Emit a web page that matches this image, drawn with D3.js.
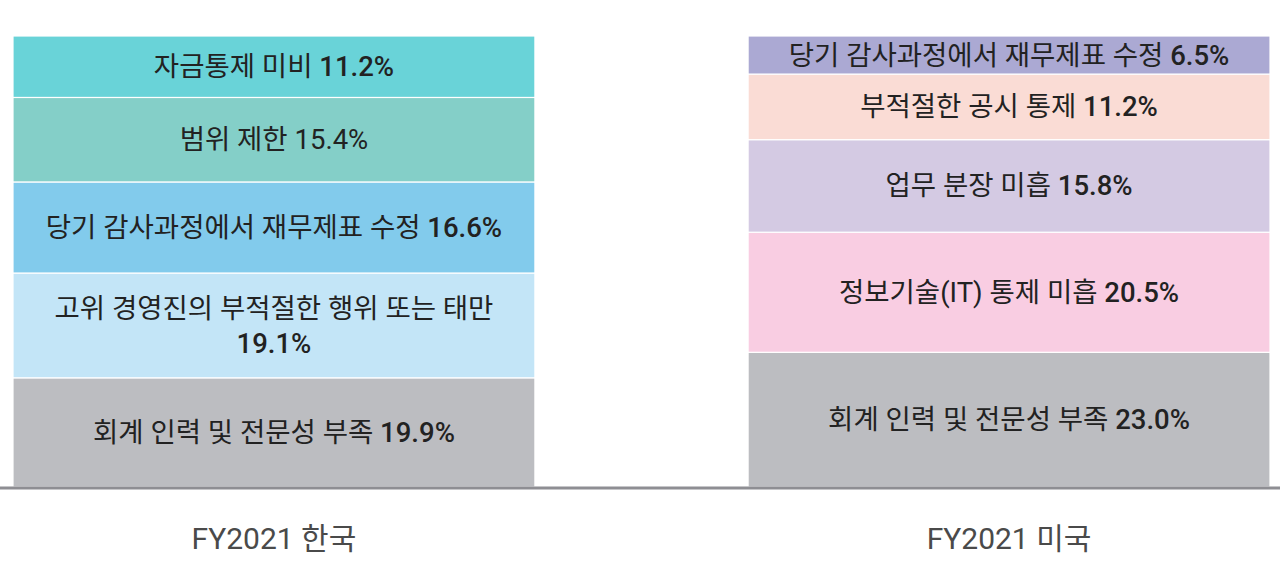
<!DOCTYPE html>
<meta charset="utf-8">
<script src="https://d3js.org/d3.v7.min.js"></script>
<style>
  body { margin: 0; background: #fff; }
  text { font-family: Roboto, "Noto Sans CJK KR", sans-serif; }
</style>
<div id="my_dataviz"></div>
<script>
    // categories (bars) and their segments, bottom to top
    var bars = ["FY2021 한국", "FY2021 미국"];

    var krLabels = ["회계 인력 및 전문성 부족", "고위 경영진의 부적절한 행위 또는 태만", "당기 감사과정에서 재무제표 수정", "범위 제한", "자금통제 미비"];
    var krValues = [19.9, 19.1, 16.6, 15.4, 11.2];
    var krColors = ["#bcbdc1", "#c3e5f7", "#82cbec", "#84cfc8", "#69d3d8"];

    var usLabels = ["회계 인력 및 전문성 부족", "정보기술(IT) 통제 미흡", "업무 분장 미흡", "부적절한 공시 통제", "당기 감사과정에서 재무제표 수정"];
    var usValues = [23.0, 20.5, 15.8, 11.2, 6.5];
    var usColors = ["#bcbdc1", "#f9cde2", "#d4cae3", "#fadcd5", "#aba9d3"];

    var width = 1280, height = 565;
    var baseline = 487, barTop = 36;

    var svg = d3.select("#my_dataviz")
        .append("svg")
        .attr("width", width)
        .attr("height", height);

    var x = d3.scaleBand()
        .domain(bars)
        .range([13, 1270])
        .paddingInner(0.29)
        .paddingOuter(0);

    // each bar is shown as share of its own total
    var y = d3.scaleLinear()
        .domain([0, 1])
        .range([baseline, barTop]);

    var series = [
        { bar: bars[0], labels: krLabels, values: krValues, colors: krColors },
        { bar: bars[1], labels: usLabels, values: usValues, colors: usColors }
    ];

    series.forEach(function(s) {
        var total = d3.sum(s.values);
        var acc = 0;
        var segs = s.values.map(function(v, i) {
            var d = { label: s.labels[i], value: v, color: s.colors[i], y0: acc / total };
            acc += v;
            d.y1 = acc / total;
            return d;
        });

        var g = svg.append("g");

        g.selectAll("rect")
            .data(segs)
            .enter()
            .append("rect")
            .attr("x", x(s.bar))
            .attr("width", x.bandwidth())
            .attr("y", d => y(d.y1))
            .attr("height", d => y(d.y0) - y(d.y1))
            .attr("fill", d => d.color)
            .attr("stroke", "#fff")
            .attr("stroke-width", 1.2);

        var cx = x(s.bar) + x.bandwidth() / 2;

        segs.forEach(function(d) {
            var cy = (y(d.y0) + y(d.y1)) / 2;
            var pct = d.value.toFixed(1) + "%";
            var boldPct = d.label !== "범위 제한";
            var t = g.append("text")
                .attr("x", cx)
                .attr("text-anchor", "middle")
                .attr("font-size", 27.5)
                .attr("fill", "#222");
            t.append("tspan").text(d.label + " ");
            t.append("tspan").attr("font-weight", boldPct ? 500 : 400).text(pct);

            if (t.node().getComputedTextLength() > x.bandwidth() - 30) {
                // too wide: put the percent on its own line
                t.selectAll("tspan").remove();
                t.append("tspan").attr("x", cx).attr("y", cy - 17 + 9.5).text(d.label);
                t.append("tspan").attr("x", cx).attr("y", cy + 18 + 9.5)
                    .attr("font-weight", boldPct ? 500 : 400).text(pct);
            } else {
                t.attr("y", cy + 9.5);
            }
        });
    });

    // baseline
    svg.append("line")
        .attr("x1", 0)
        .attr("x2", width)
        .attr("y1", baseline + 1)
        .attr("y2", baseline + 1)
        .attr("stroke", "#8e8e93")
        .attr("stroke-width", 3);

    // category labels
    svg.selectAll(".cat")
        .data(bars)
        .enter()
        .append("text")
        .attr("class", "cat")
        .attr("x", d => x(d) + x.bandwidth() / 2)
        .attr("y", 549)
        .attr("text-anchor", "middle")
        .attr("font-size", 30)
        .attr("font-weight", 400)
        .attr("fill", "#4a4a4a")
        .text(d => d);
</script>
